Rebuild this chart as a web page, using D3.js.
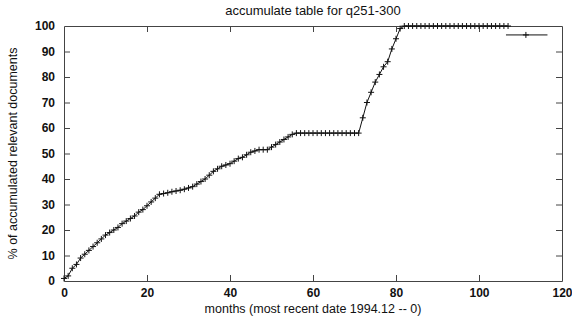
<!DOCTYPE html>
<html>
<head>
<meta charset="utf-8">
<script src="https://cdn.jsdelivr.net/npm/d3@7"></script>
<style>
  body { margin: 0; background: #fff; }
  text { font-family: "Liberation Sans", Arial, sans-serif; fill: #111; }
</style>
</head>
<body>
<svg id="chart" width="572" height="321"></svg>
<script>
// months since most recent date, and accumulated % of relevant docs
var months = d3.range(0, 108);
var pct = [
  1, 2, 5, 6.5, 9, 10.5, 12, 13.5, 15, 16.5,
  18, 19, 20, 21, 22.5, 23.5, 24.5, 25.5, 27, 28,
  29.5, 31, 32.5, 34, 34.3, 34.6, 35, 35.3, 35.6, 36,
  36.5, 37, 38, 39, 40, 41.5, 43, 44, 45, 45.5,
  46, 47, 48, 48.5, 49.5, 50.5, 51, 51.5, 51.5, 51.5,
  52.5, 53.5, 54.5, 55.5, 56.5, 57.5, 58, 58, 58, 58,
  58, 58, 58, 58, 58, 58, 58, 58, 58, 58,
  58, 58, 64, 70, 74, 78, 81, 84, 86, 91,
  95, 99, 100, 100, 100, 100, 100, 100, 100, 100,
  100, 100, 100, 100, 100, 100, 100, 100, 100, 100,
  100, 100, 100, 100, 100, 100, 100, 100
];
var xTicks = [0, 20, 40, 60, 80, 100, 120];
var yTicks = [0, 10, 20, 30, 40, 50, 60, 70, 80, 90, 100];
var keyValue = 96.5;

var svg = d3.select("#chart");
var pLeft = 64, pRight = 562, pTop = 26, pBottom = 281;

var x = d3.scaleLinear().domain([0, 120]).range([pLeft, pRight]);
var y = d3.scaleLinear().domain([0, 100]).range([pBottom, pTop]);

var data = months.map(function(m, i) { return {m: m, v: pct[i]}; });

// title
svg.append("text")
  .attr("x", (pLeft + pRight) / 2)
  .attr("y", 15)
  .attr("text-anchor", "middle")
  .attr("font-size", "13px")
  .text("accumulate table for q251-300");

// bottom / top axes, ticks inward
var xb = svg.append("g").attr("transform", "translate(0," + pBottom + ")")
  .call(d3.axisBottom(x).tickValues(xTicks).tickSizeInner(-6).tickSizeOuter(0).tickPadding(7));
var xt = svg.append("g").attr("transform", "translate(0," + pTop + ")")
  .call(d3.axisTop(x).tickValues(xTicks).tickSizeInner(-6).tickSizeOuter(0).tickFormat(""));
var yl = svg.append("g").attr("transform", "translate(" + pLeft + ",0)")
  .call(d3.axisLeft(y).tickValues(yTicks).tickSizeInner(-6).tickSizeOuter(0).tickPadding(9));
var yr = svg.append("g").attr("transform", "translate(" + pRight + ",0)")
  .call(d3.axisRight(y).tickValues(yTicks).tickSizeInner(-6).tickSizeOuter(0).tickFormat(""));

[xb, xt, yl, yr].forEach(function(g) {
  g.selectAll("path, line").attr("stroke", "#444").attr("stroke-width", 1);
  g.selectAll("text")
    .style("font-family", "'Liberation Sans', Arial, sans-serif")
    .style("font-size", "12px")
    .style("font-weight", "bold")
    .attr("fill", "#111");
});
// drop tick lines sitting on the corners
xb.selectAll(".tick line").filter(function(d) { return d === 0 || d === 120; }).remove();
xt.selectAll(".tick line").filter(function(d) { return d === 0 || d === 120; }).remove();
yl.selectAll(".tick line").filter(function(d) { return d === 0 || d === 100; }).remove();
yr.selectAll(".tick line").filter(function(d) { return d === 0 || d === 100; }).remove();

// axis labels
svg.append("text")
  .attr("x", (pLeft + pRight) / 2)
  .attr("y", 313)
  .attr("text-anchor", "middle")
  .attr("font-size", "12.5px")
  .text("months (most recent date 1994.12 -- 0)");

svg.append("text")
  .attr("transform", "translate(17," + ((pTop + pBottom) / 2) + ") rotate(-90)")
  .attr("text-anchor", "middle")
  .attr("font-size", "12.5px")
  .text("% of accumulated relevant documents");

// data line
var line = d3.line().x(function(d) { return x(d.m); }).y(function(d) { return y(d.v); });
svg.append("path")
  .datum(data)
  .attr("d", line)
  .attr("fill", "none")
  .attr("stroke", "#111")
  .attr("stroke-width", 1);

// + markers
function plus(px, py) {
  return "M" + (px - 3) + "," + py + "H" + (px + 3) + "M" + px + "," + (py - 3) + "V" + (py + 3);
}
svg.append("g").selectAll("path")
  .data(data)
  .enter()
  .append("path")
  .attr("d", function(d) { return plus(x(d.m), y(d.v)); })
  .attr("stroke", "#111")
  .attr("stroke-width", 1)
  .attr("fill", "none");

// key sample (no label)
svg.append("line")
  .attr("x1", x(106.5)).attr("x2", x(116.5))
  .attr("y1", y(keyValue)).attr("y2", y(keyValue))
  .attr("stroke", "#111");
svg.append("path")
  .attr("d", plus(x(111.3), y(keyValue)))
  .attr("stroke", "#111");
</script>
</body>
</html>
